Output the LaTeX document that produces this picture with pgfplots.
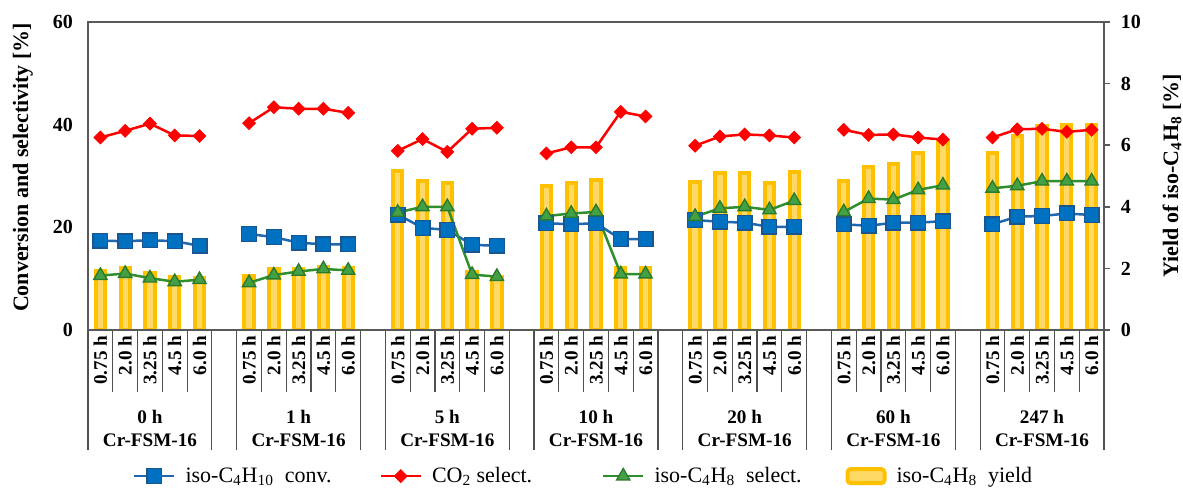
\documentclass[border=0pt]{standalone}
\usepackage{fontspec}
\setmainfont{Liberation Serif}
\usepackage{pgfplots}
\usepackage{pgfplotstable}
\pgfplotsset{compat=1.18}

\definecolor{barorange}{HTML}{FFC000}
\definecolor{barlight}{HTML}{FFD966}
\definecolor{convfill}{HTML}{0070C0}
\definecolor{convedge}{HTML}{1A5590}
\definecolor{convline}{HTML}{1F68B0}
\definecolor{coline}{HTML}{FF0000}
\definecolor{selfill}{HTML}{44A044}
\definecolor{seledge}{HTML}{2B7A2B}
\definecolor{selline}{HTML}{2F8F2F}
\definecolor{axisgray}{HTML}{595959}
\definecolor{tablegray}{HTML}{505050}

% slot: position along the time-on-stream axis (gaps between catalysts are nan)
\pgfplotstableread{
slot conv co2 sel yield
0  17.4 37.5 10.6 1.92
1  17.3 38.8 11.0 2.00
2  17.5 40.2 10.1 1.84
3  17.3 37.9 9.4  1.71
4  16.4 37.8 9.8  1.70
5  nan  nan  nan  nan
6  18.7 40.3 9.2  1.75
7  18.1 43.4 10.7 1.98
8  17.0 43.1 11.4 1.98
9  16.7 43.1 11.9 2.05
10 16.7 42.3 11.6 2.00
11 nan  nan  nan  nan
12 22.5 34.9 22.9 5.17
13 19.9 37.2 24.0 4.84
14 19.5 34.7 24.0 4.76
15 16.6 39.2 10.8 1.89
16 16.4 39.4 10.4 1.73
17 nan  nan  nan  nan
18 20.8 34.4 22.2 4.68
19 20.6 35.6 22.7 4.76
20 20.8 35.6 23.0 4.87
21 17.7 42.5 10.9 2.00
22 17.7 41.6 10.9 2.00
23 nan  nan  nan  nan
24 21.4 35.9 22.1 4.79
25 21.1 37.7 23.7 5.09
26 20.9 38.1 24.0 5.11
27 20.1 37.9 23.4 4.78
28 20.1 37.5 25.2 5.14
29 nan  nan  nan  nan
30 20.6 39.0 23.0 4.84
31 20.3 38.0 25.6 5.30
32 20.9 38.1 25.4 5.39
33 20.9 37.5 27.3 5.76
34 21.2 37.1 28.2 6.11
35 nan  nan  nan  nan
36 20.6 37.5 27.6 5.76
37 22.1 39.1 28.1 6.30
38 22.2 39.2 29.0 6.62
39 22.7 38.6 29.0 6.67
40 22.4 39.0 29.0 6.67
}\datatable

\tikzset{grouplabel/.style={anchor=base, font=\fontsize{11.5}{13.8}\selectfont\bfseries}}

\begin{document}
\begin{tikzpicture}
\useasboundingbox (-52.8pt,-94.8pt) rectangle (657pt,198pt);
\pgfplotsset{
  common/.style={
    at={(0,0)}, anchor=south west,
    scale only axis, width=609.6pt, height=184.8pt,
    xmin=-0.5, xmax=40.5,
    axis line style={draw=axisgray, line width=0.9pt},
    /pgf/number format/assume math mode=true,
    tick label style={font=\fontsize{12}{14}\selectfont\bfseries},
  },
  convstyle/.style={convline, line width=1.5pt, mark=square*, mark size=4.4pt,
    mark options={fill=convfill, draw=convedge, line width=0.8pt}},
  co2style/.style={coline, line width=1.5pt, mark=square*, mark size=2.7pt,
    mark options={rotate=45, fill=coline, draw=coline, line width=0.5pt}},
  selstyle/.style={selline, line width=1.5pt, mark=triangle*, mark size=4.6pt,
    mark options={fill=selfill, draw=seledge, line width=0.8pt}},
}

% yield bars, right-hand axis
\begin{axis}[common,
  ymin=0, ymax=10, ytick={0,2,4,6,8,10},
  ytick pos=right, yticklabel pos=right,
  ytick align=outside, major tick length=3.6pt,
  ytick style={draw=axisgray, line width=0.9pt},
  yticklabel style={xshift=3pt},
  xtick=\empty,
  every axis y label/.style={at={(axis description cs:1.067,0.5)}, rotate=90, anchor=center},
  ylabel={\fontsize{13.2}{15}\selectfont\bfseries Yield of iso-C\textsubscript{4}H\textsubscript{8} [\%]},
]
\addplot[ybar, bar width=5.6pt, fill=barlight, draw=barorange, line width=2.4pt]
  table[x=slot, y=yield]{\datatable};
\end{axis}

% conversion and selectivity, left-hand axis
\begin{axis}[common,
  clip=false,
  ymin=0, ymax=60, ytick={0,20,40,60},
  ytick pos=left, ytick align=inside,
  ytick style={draw=none},
  yticklabel style={xshift=-5.6pt},
  xtick={0.5,1.5,2.5,3.5, 6.5,7.5,8.5,9.5, 12.5,13.5,14.5,15.5, 18.5,19.5,20.5,21.5,
         24.5,25.5,26.5,27.5, 30.5,31.5,32.5,33.5, 36.5,37.5,38.5,39.5},
  xticklabels=\empty,
  major tick length=37.2pt,
  minor xtick={-0.5,4.5,5.5,10.5,11.5,16.5,17.5,22.5,23.5,28.5,29.5,34.5,35.5,40.5},
  minor tick length=72pt,
  xtick align=outside, xtick pos=left,
  xtick style={draw=tablegray, line width=0.7pt},
  extra x ticks={0,1,...,40},
  extra x tick labels={0.75 h,2.0 h,3.25 h,4.5 h,6.0 h,,
                       0.75 h,2.0 h,3.25 h,4.5 h,6.0 h,,
                       0.75 h,2.0 h,3.25 h,4.5 h,6.0 h,,
                       0.75 h,2.0 h,3.25 h,4.5 h,6.0 h,,
                       0.75 h,2.0 h,3.25 h,4.5 h,6.0 h,,
                       0.75 h,2.0 h,3.25 h,4.5 h,6.0 h,,
                       0.75 h,2.0 h,3.25 h,4.5 h,6.0 h},
  extra x tick style={major tick length=0pt,
    xticklabel style={rotate=90, anchor=east, font=\fontsize{11.5}{13}\selectfont\bfseries}},
  every axis y label/.style={at={(axis description cs:-0.064,0.528)}, rotate=90, anchor=center},
  ylabel={\fontsize{13.2}{15}\selectfont\bfseries Conversion and selectivity [\%]},
  unbounded coords=jump,
  legend columns=4,
  legend style={at={(axis description cs:0.0443,-0.4745)}, anchor=west,
    draw=none, fill=none, inner sep=0pt, outer sep=0pt,
    font=\fontsize{13.2}{15}\selectfont, nodes={inner sep=0pt},
    /tikz/every odd column/.style={column sep=6pt}},
  legend image code/.code={\draw[mark repeat=2, mark phase=2]
    plot coordinates {(0pt,0pt) (12pt,0pt) (24pt,0pt)};},
]
\addplot[convstyle] table[x=slot, y=conv]{\datatable};
\addlegendentry{\makebox[116.4pt][l]{iso-C\textsubscript{4}H\textsubscript{10}\ \ conv.}}
\addplot[co2style] table[x=slot, y=co2]{\datatable};
\addlegendentry{\makebox[102pt][l]{CO\textsubscript{2} select.}}
\addplot[selstyle] table[x=slot, y=sel]{\datatable};
\addlegendentry{\makebox[114.6pt][l]{iso-C\textsubscript{4}H\textsubscript{8}\ \ select.}}
\addlegendimage{legend image code/.code={\draw[draw=barorange, fill=barlight,
    line width=2.4pt, rounded corners=2pt] (1.2pt,-4.2pt) rectangle (23.4pt,4.2pt);}}
\addlegendentry{iso-C\textsubscript{4}H\textsubscript{8}\ \ yield}

% catalyst labels under each group of five runs
\node[grouplabel, yshift=-55.8pt] at (axis cs:2,0)  {0 h};
\node[grouplabel, yshift=-69.6pt] at (axis cs:2,0)  {Cr-FSM-16};
\node[grouplabel, yshift=-55.8pt] at (axis cs:8,0)  {1 h};
\node[grouplabel, yshift=-69.6pt] at (axis cs:8,0)  {Cr-FSM-16};
\node[grouplabel, yshift=-55.8pt] at (axis cs:14,0) {5 h};
\node[grouplabel, yshift=-69.6pt] at (axis cs:14,0) {Cr-FSM-16};
\node[grouplabel, yshift=-55.8pt] at (axis cs:20,0) {10 h};
\node[grouplabel, yshift=-69.6pt] at (axis cs:20,0) {Cr-FSM-16};
\node[grouplabel, yshift=-55.8pt] at (axis cs:26,0) {20 h};
\node[grouplabel, yshift=-69.6pt] at (axis cs:26,0) {Cr-FSM-16};
\node[grouplabel, yshift=-55.8pt] at (axis cs:32,0) {60 h};
\node[grouplabel, yshift=-69.6pt] at (axis cs:32,0) {Cr-FSM-16};
\node[grouplabel, yshift=-55.8pt] at (axis cs:38,0) {247 h};
\node[grouplabel, yshift=-69.6pt] at (axis cs:38,0) {Cr-FSM-16};
\end{axis}
\end{tikzpicture}
\end{document}
